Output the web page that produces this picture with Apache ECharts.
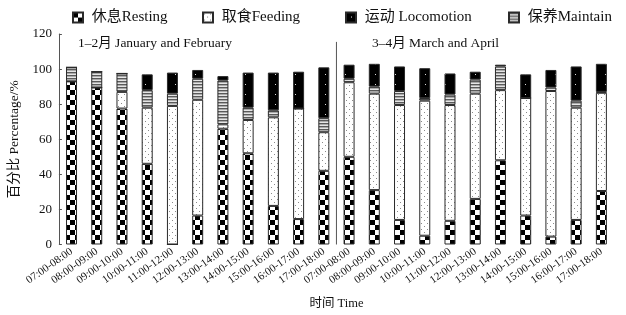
<!DOCTYPE html>
<html>
<head>
<meta charset="utf-8">
<script src="https://cdn.jsdelivr.net/npm/echarts@6/dist/echarts.min.js"></script>
<style>
  html, body { margin: 0; padding: 0; background: #fff; }
  #chart { width: 626px; height: 315px; }
</style>
</head>
<body>
<div id="chart"></div>
<script>
const hours = ['07:00-08:00', '08:00-09:00', '09:00-10:00', '10:00-11:00', '11:00-12:00', '12:00-13:00',
  '13:00-14:00', '14:00-15:00', '15:00-16:00', '16:00-17:00', '17:00-18:00'];
const categories = hours.concat(hours);

// percentages, Jan-Feb then Mar-Apr
const resting = [93, 89.5, 77.5, 46, 0, 16.5, 66, 52, 22, 14.5, 42, 50, 31, 14, 5, 13.5, 26, 48, 16.5, 4.5, 14, 30.5];
const feeding = [0, 0, 9.5, 32, 79, 66, 2.5, 19, 50.5, 63, 22, 42.5, 55, 65.5, 77, 66, 60, 40, 67, 83, 64, 56];
const maintain = [8, 9, 10.5, 10, 7, 12, 25, 7, 4, 0, 8, 2, 4, 8, 1.5, 6, 8, 13.5, 0, 2, 4, 0.5];
const locomotion = [0, 0, 0, 9, 12, 5, 2.5, 20, 21.5, 21, 29, 8, 13, 14, 17, 12, 4.5, 1, 13.5, 10, 19.5, 16];

const periods = ['1–2月 January and February', '3–4月 March and April'];

const FONT = "'Liberation Serif', 'Noto Sans CJK SC', serif";

// fill patterns
function makePattern(w, h, draw) {
  const c = document.createElement('canvas');
  c.width = w; c.height = h;
  draw(c.getContext('2d'));
  return { image: c, repeat: 'repeat' };
}
const checker = makePattern(10, 10, ctx => {
  ctx.fillStyle = '#fff'; ctx.fillRect(0, 0, 10, 10);
  ctx.fillStyle = '#000'; ctx.fillRect(0, 0, 5, 5); ctx.fillRect(5, 5, 5, 5);
});
const dots = makePattern(6, 6, ctx => {
  ctx.fillStyle = '#fff'; ctx.fillRect(0, 0, 6, 6);
  ctx.fillStyle = '#8a8a8a'; ctx.fillRect(1, 1, 1, 1); ctx.fillRect(4, 4, 1, 1);
});
const blackDots = makePattern(10, 10, ctx => {
  ctx.fillStyle = '#000'; ctx.fillRect(0, 0, 10, 10);
  ctx.fillStyle = '#ddd'; ctx.fillRect(5, 4, 1, 1);
});
const stripes = makePattern(2, 3, ctx => {
  ctx.fillStyle = '#5a5a5a'; ctx.fillRect(0, 0, 2, 1);
  ctx.fillStyle = '#aaa'; ctx.fillRect(0, 1, 2, 1);
  ctx.fillStyle = '#e5e5e5'; ctx.fillRect(0, 2, 2, 1);
});

function barSeries(name, data, fill) {
  return {
    name: name,
    type: 'bar',
    stack: 'total',
    barWidth: 11,
    data: data,
    itemStyle: { color: fill, borderColor: '#2a2a2a', borderWidth: 1 },
    emphasis: { disabled: true }
  };
}

function legendAt(name, left) {
  return {
    data: [name], left: left, top: 10, padding: 0,
    icon: 'rect', itemWidth: 10, itemHeight: 10,
    formatter: ' {name}',
    textStyle: { fontFamily: FONT, fontSize: 15, color: '#111' }
  };
}

const chart = echarts.init(document.getElementById('chart'));
chart.setOption({
  animation: false,
  legend: [
    legendAt('休息Resting', 72),
    legendAt('取食Feeding', 202),
    legendAt('运动 Locomotion', 345),
    legendAt('保养Maintain', 508)
  ],
  grid: { left: 48, right: 12, top: 34, bottom: 69 },
  xAxis: {
    type: 'category',
    data: categories,
    name: '时间 Time',
    nameLocation: 'middle',
    nameGap: 53,
    nameTextStyle: { fontFamily: FONT, fontSize: 12.5, color: '#111' },
    axisLine: { show: false },
    axisTick: { inside: true, length: 4, lineStyle: { color: '#666' } },
    axisLabel: { interval: 0, rotate: 35, fontFamily: FONT, fontSize: 11, color: '#111', margin: 6 }
  },
  yAxis: {
    type: 'value',
    min: 0, max: 120, interval: 20,
    name: '百分比 Percentage/%',
    nameLocation: 'middle',
    nameGap: 30,
    nameTextStyle: { fontFamily: FONT, fontSize: 13.5, color: '#111' },
    axisLine: { show: true, lineStyle: { color: '#555' } },
    axisTick: { show: true, inside: true, length: 3, lineStyle: { color: '#555' } },
    axisLabel: { fontFamily: FONT, fontSize: 13, color: '#111', margin: 7 },
    splitLine: { show: false }
  },
  series: [
    barSeries('休息Resting', resting, checker),
    barSeries('取食Feeding', feeding, dots),
    barSeries('保养Maintain', maintain, stripes),
    barSeries('运动 Locomotion', locomotion, blackDots)
  ]
});

// period divider and labels
const x10 = chart.convertToPixel({ xAxisIndex: 0 }, 10);
const x11 = chart.convertToPixel({ xAxisIndex: 0 }, 11);
const xMid = (x10 + x11) / 2;
const yTop = chart.convertToPixel({ yAxisIndex: 0 }, 115.5);
const yBot = chart.convertToPixel({ yAxisIndex: 0 }, 0);
const yText = chart.convertToPixel({ yAxisIndex: 0 }, 114.5);
chart.setOption({
  graphic: [
    { type: 'line', shape: { x1: xMid, y1: yTop, x2: xMid, y2: yBot }, style: { stroke: '#555', lineWidth: 1 } },
    { type: 'text', x: 78, y: yText, style: { text: periods[0], font: '13.5px ' + FONT, fill: '#111', textVerticalAlign: 'middle' } },
    { type: 'text', x: 372, y: yText, style: { text: periods[1], font: '13.5px ' + FONT, fill: '#111', textVerticalAlign: 'middle' } }
  ]
});
</script>
</body>
</html>
